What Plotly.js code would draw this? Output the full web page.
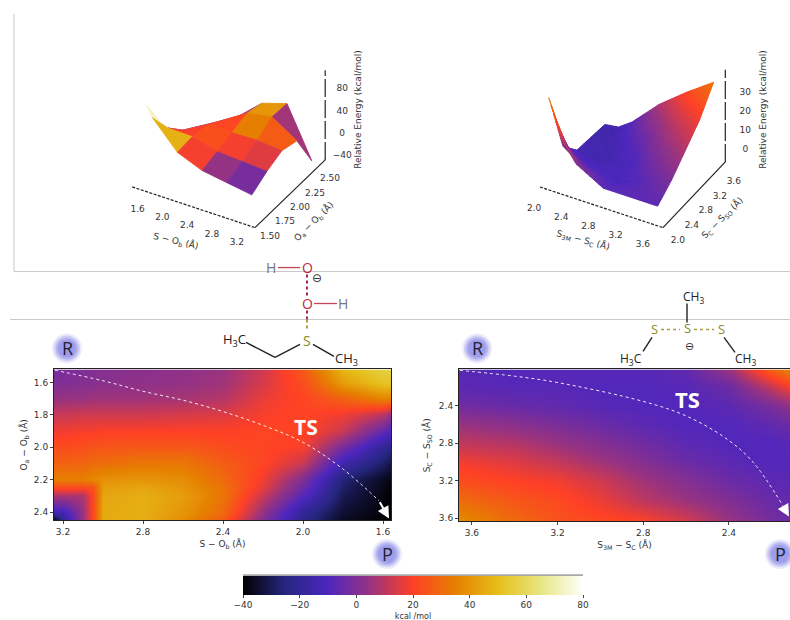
<!DOCTYPE html>
<html><head><meta charset="utf-8">
<script src="https://cdn.plot.ly/plotly-3.0.1.min.js"></script>
<style>html,body{margin:0;padding:0;background:#fff;overflow:hidden}#c{width:790px;height:620px}</style>
</head><body><div id="c"></div>
<script>
// ---- data ----
const leftX = [3.245,3.2,3.1,3.05,3.0,2.8,2.6,2.4,2.2,2.0,1.8,1.6,1.56];
const leftY = [1.52,1.6,1.7,1.8,1.9,2.0,2.1,2.2,2.25,2.3,2.4,2.45];
const leftZ = [
 [-2,-1,0,1,1,2,3,5,13,26,48,56,56],
 [0,0,1,1,2,3,4,6,14,23,42,52,52],
 [4,5,5,6,6,6,7,9,17,21,28,36,36],
 [12,12,13,13,13,13,14,15,19,21,18,10,4],
 [18,18,19,19,20,20,20,20,21,21,12,-6,-10],
 [23,23,24,25,25,26,26,23,21,19,-2,-20,-24],
 [28,28,29,30,31,33,33,27,21,12,-15,-28,-32],
 [35,35,35,37,39,40,38,30,18,0,-26,-36,-38],
 [22,22,22,24,42,44,40,32,16,-4,-28,-37,-39],
 [8,8,8,22,44,46,42,32,12,-8,-30,-38,-40],
 [-14,-14,5,22,45,46,40,30,4,-20,-34,-39,-40],
 [-40,-20,5,22,45,46,38,26,0,-22,-36,-40,-40]
];
const rightX = [3.66,3.4,3.2,3.0,2.8,2.6,2.4,2.2,2.0];
const rightY = [2.0,2.2,2.4,2.6,2.8,3.0,3.2,3.4,3.63];
const rightZ = [
 [-8,-9,-8,-8,-8,-6,6,30,50],
 [-7,-8,-8,-9,-9,-8,-4,12,30],
 [-3,-5,-6,-8,-9,-9,-7,-1,10],
 [5,2,-1,-4,-7,-9,-9,-6,-1],
 [11,9,5,1,-3,-7,-9,-9,-6],
 [18,15,11,6,1,-4,-7,-9,-8],
 [23,20,18,13,6,1,-4,-7,-8],
 [30,25,22,17,10,5,0,-5,-7],
 [38,30,24,22,20,14,5,-2,-6]
];
const surfLX = [1.5,1.6,2.0,2.4,2.8,3.2];
const surfLY = [1.5,1.75,2.0,2.25,2.5];
const surfLZ = [
 [102,82,35,17,10,3],
 [42,38,37,25,22,19],
 [-25,8,33,33,34,30],
 [-32,-22,14,42,50,22],
 [-38,-35,-5,34,48,-40]
];
const surfRX = [2.0,2.2,2.4,2.8,3.2,3.6];
const surfRY = [2.0,2.4,2.8,3.2,3.6];
const surfRZ = [
 [40,20,10,2,2,2],
 [7,2,0,-2,2,8],
 [-3,-4,-4,-1,8,16],
 [-4,-4,-3,5,16,24],
 [-5,-4,1,15,26,36]
];
const leftPathX = [3.24,3.0,2.8,2.6,2.4,2.2,2.0,1.8,1.62];
const leftPathY = [1.525,1.59,1.655,1.71,1.78,1.865,1.97,2.135,2.33];
const rightPathX = [3.656,3.4,3.203,2.8,2.595,2.408,2.287,2.147];
const rightPathY = [2.028,2.09,2.156,2.358,2.517,2.76,3.005,3.47];
const cmr = [[0,'#000000'],[0.125,'#262680'],[0.25,'#4d26bf'],[0.375,'#993380'],[0.5,'#ff4026'],[0.625,'#e68000'],[0.75,'#e6bf1a'],[0.875,'#e6e680'],[1,'#ffffff']];
const barTicks = [-40,-20,0,20,40,60,80];
const s3dXTicks = [1.6,2.0,2.4,2.8,3.2];
const s3dYTicks = [1.5,1.75,2.0,2.25,2.5];
const s3dZTicks = [-40,0,40,80];
const r3dXTicks = [2.0,2.4,2.8,3.2,3.6];
const r3dYTicks = [2.0,2.4,2.8,3.2,3.6];
const r3dZTicks = [0,10,20,30];

const P = x=>x/790, Q = y=>1-y/620;
const font = {family:'DejaVu Sans, sans-serif', size:9, color:'#333'};

function line(x0,y0,x1,y1,color,w,dash){return {type:'line',xref:'paper',yref:'paper',x0:P(x0),y0:Q(y0),x1:P(x1),y1:Q(y1),line:{color:color,width:w||1.3,dash:dash||'solid'}};}
function glow(cx,cy){const out=[];[[15,0.18],[13,0.3],[11,0.45],[9,0.6]].forEach(([r,o])=>{out.push({type:'circle',xref:'paper',yref:'paper',x0:P(cx-r),x1:P(cx+r),y0:Q(cy+r),y1:Q(cy-r),fillcolor:'#8f8fe8',opacity:o,line:{width:0}});});return out;}
function lab(x,y,t,size,color,extra){return Object.assign({xref:'paper',yref:'paper',x:P(x),y:Q(y),text:t,showarrow:false,xanchor:'center',yanchor:'middle',font:{family:'Open Sans, DejaVu Sans, sans-serif',size:size,color:color}},extra||{});}

const shapes = [
 line(14,14,14,272,'#c8c8c8',1), line(14,272,790,272,'#c8c8c8',1), line(10,320,790,320,'#c8c8c8',1),
 line(243,576,583,576,'#666',1),
 ...glow(67,349),...glow(477,349),...glow(387,555),...glow(780,555),
 line(278,268,300,268,'#c0475a',1.3), line(314,304,337,304,'#c0475a',1.3),
 line(307,275,307,296,'#a3244a',2,'dot'), line(307,311,307,320,'#a3244a',2,'dot'), line(307,320,307,332,'#a7a040',2,'dot'),
 line(300,345,275,358,'#222',1.4), line(275,358,246,343,'#222',1.4), line(313,345,334,357,'#222',1.4),
 line(687,304,687,323,'#222',1.4), line(661,330,680,330,'#a7a040',1.6,'dot'), line(694,330,714,330,'#a7a040',1.6,'dot'),
 line(652,338,643,352,'#222',1.4), line(724,338,735,353,'#222',1.4)
];
const tf = {family:'DejaVu Sans, sans-serif',size:9,color:'#333'};
function ttl(x,y,t,ang){return {xref:'paper',yref:'paper',x:P(x),y:Q(y),text:t,showarrow:false,xanchor:'center',yanchor:'middle',textangle:ang,font:tf};}
const annos = [
 lab(67,349,'R',18,'#223'),lab(477,349,'R',18,'#223'),lab(387,555,'P',18,'#223'),lab(780,555,'P',18,'#223'),
 lab(306,428,'<b>TS</b>',21,'#fff'),lab(687,400,'<b>TS</b>',22,'#fff'),
 lab(271,268,'H',14,'#777'),lab(307,268,'O',14,'#c0283c'),lab(317,278,'⊖',12,'#333'),
 lab(307,304,'O',14,'#c0283c'),lab(343,304,'H',14,'#777'),lab(307,341,'S',14,'#8a8a20'),
 lab(234,341,'H<sub>3</sub>C',13,'#222'),lab(346,360,'CH<sub>3</sub>',13,'#222'),
 lab(693,297,'CH<sub>3</sub>',12,'#222'),lab(687,329,'S',13,'#8a8a20'),lab(654,330,'S',13,'#8a8a20'),lab(721,330,'S',13,'#8a8a20'),
 lab(689,346,'⊖',11,'#333'),lab(631,360,'H<sub>3</sub>C',12,'#222'),lab(745,360,'CH<sub>3</sub>',12,'#222'),
 {xref:'x',yref:'y',axref:'x',ayref:'y',x:1.57,y:2.44,ax:leftPathX[8],ay:leftPathY[8],showarrow:true,arrowcolor:'#fff',arrowhead:2,arrowsize:1.2,arrowwidth:2,text:''},
 {xref:'x2',yref:'y2',axref:'x2',ayref:'y2',x:2.12,y:3.58,ax:rightPathX[7],ay:rightPathY[7],showarrow:true,arrowcolor:'#fff',arrowhead:2,arrowsize:1.2,arrowwidth:2,text:''},
 ttl(358,110,'Relative Energy (kcal/mol)',-90),
 ttl(763,110,'Relative Energy (kcal/mol)',-90),
 ttl(176,241,'S − O<sub>b</sub> (Å)',13),
 ttl(313,222,'O<sub>a</sub> − O<sub>b</sub> (Å)',-45),
 ttl(583,240,'S<sub>3M</sub> − S<sub>C</sub> (Å)',15),
 ttl(722,218,'S<sub>C</sub> − S<sub>SO</sub> (Å)',-45)
];

// oblique projection of a 3-D surface onto the page, derived from the picture's axes
const viewL = {o:[255,228],x0:3.3,y0:1.45,z0:-47,ux:[62,20.6],uy:[60,-58],uz:0.558,xa:[1.32,3.3],ya:[1.45,2.62],za:[-47,114],cmin:-12,cmax:71,tmin:0.32,lx:[-12,17],ly:[12,12],lz:[17,0]};
const viewR = {o:[663,228],x0:3.72,y0:1.92,z0:-6.3,ux:[68,22.5],uy:[35,-37],uz:1.91,xa:[1.91,3.72],ya:[1.92,3.7],za:[-6.3,42],cmin:-26,cmax:77,tmin:0,lx:[-12,20],ly:[12,16],lz:[20,0]};
function proj(v,x,y,z){return [v.o[0]+(x-v.x0)*v.ux[0]+(y-v.y0)*v.uy[0], v.o[1]+(x-v.x0)*v.ux[1]+(y-v.y0)*v.uy[1]-(z-v.z0)*v.uz];}
function hex2(c){return [1,3,5].map(i=>parseInt(c.substr(i,2),16));}
function colorOf(z,v){let t=Math.min(1,Math.max(v.tmin,(z-v.cmin)/(v.cmax-v.cmin)));for(let i=1;i<cmr.length;i++){if(t<=cmr[i][0]){const a=hex2(cmr[i-1][1]),b=hex2(cmr[i][1]),f=(t-cmr[i-1][0])/(cmr[i][0]-cmr[i-1][0]);return 'rgb('+a.map((q,k)=>Math.round(q+(b[k]-q)*f)).join(',')+')';}}return '#fff';}
function facets(v,X,Y,Z,sub){
 const out=[];
 for(let j=Y.length-2;j>=0;j--){for(let s=sub-1;s>=0;s--){for(let i=0;i<X.length-1;i++){for(let r=0;r<sub;r++){
  const val=(a,b)=>{const f=(r+a)/sub,g=(s+b)/sub;return Z[j][i]*(1-f)*(1-g)+Z[j][i+1]*f*(1-g)+Z[j+1][i]*(1-f)*g+Z[j+1][i+1]*f*g;};
  const xx=a=>X[i]+(X[i+1]-X[i])*(r+a)/sub, yy=b=>Y[j]+(Y[j+1]-Y[j])*(s+b)/sub;
  const c=[[0,0],[1,0],[1,1],[0,1],[0,0]].map(([a,b])=>proj(v,xx(a),yy(b),val(a,b)));
  const col=colorOf((val(0,0)+val(1,0)+val(1,1)+val(0,1))/4,v);
  out.push({type:'scatter',mode:'lines',xaxis:'x3',yaxis:'y3',x:c.map(p=>p[0]),y:c.map(p=>p[1]),fill:'toself',fillcolor:col,line:{color:col,width:0.9},hoverinfo:'skip'});
 }}}}
 return out;
}
function axisLines(v,xt,yt,zt,ydec){
 const out=[];
 const seg=(a,b,dash)=>out.push({type:'scatter',mode:'lines',xaxis:'x3',yaxis:'y3',x:[a[0],b[0]],y:[a[1],b[1]],line:{color:'#222',width:1.2,dash:dash},hoverinfo:'skip'});
 seg(proj(v,v.xa[0],v.y0,v.z0),proj(v,v.xa[1],v.y0,v.z0),'3px,1.5px');
 seg(proj(v,v.xa[1],v.y0,v.z0),proj(v,v.xa[1],v.ya[1],v.z0),'solid');
 seg(proj(v,v.xa[1],v.ya[1],v.z0),proj(v,v.xa[1],v.ya[1],v.za[1]),'18px,3px');
 const txt=(pts,labels,d)=>out.push({type:'scatter',mode:'text',xaxis:'x3',yaxis:'y3',x:pts.map(p=>p[0]+d[0]),y:pts.map(p=>p[1]+d[1]),text:labels,textposition:'middle center',textfont:tf,cliponaxis:false,hoverinfo:'skip'});
 txt(xt.map(t=>proj(v,t,v.y0,v.z0)),xt.map(t=>t.toFixed(1)),v.lx);
 txt(yt.map(t=>proj(v,v.xa[1],t,v.z0)),yt.map(t=>t.toFixed(ydec)),v.ly);
 txt(zt.map(t=>proj(v,v.xa[1],v.ya[1],t)),zt.map(t=>String(t).replace('-','−')),v.lz);
 return out;
}

const layout = {
 width:790,height:620,margin:{l:0,r:0,t:0,b:0},paper_bgcolor:'#fff',plot_bgcolor:'rgba(0,0,0,0)',showlegend:false,
 shapes:shapes,annotations:annos,
 coloraxis:{cmin:-40,cmax:80,colorscale:cmr,colorbar:{orientation:'h',x:P(413),xanchor:'center',y:Q(576),yanchor:'top',len:340,lenmode:'pixels',thickness:19,thicknessmode:'pixels',tickvals:barTicks,ticks:'outside',ticklen:3,tickfont:font,outlinewidth:0,xpad:0,ypad:0,title:{text:'kcal /mol',side:'bottom',font:{family:'DejaVu Sans, sans-serif',size:8,color:'#333'}}}},
 xaxis:{domain:[P(54),P(391)],anchor:'y',range:[3.245,1.56],tickvals:[3.2,2.8,2.4,2.0,1.6],ticktext:['3.2','2.8','2.4','2.0','1.6'],ticks:'outside',ticklen:3,tickfont:font,showline:true,mirror:true,linecolor:'#222',linewidth:1,showgrid:false,zeroline:false,title:{text:'S − O<sub>b</sub> (Å)',font:font,standoff:4}},
 yaxis:{domain:[Q(521),Q(370)],anchor:'x',range:[2.45,1.52],tickvals:[1.6,1.8,2.0,2.2,2.4],ticktext:['1.6','1.8','2.0','2.2','2.4'],ticks:'outside',ticklen:3,tickfont:font,showline:true,mirror:true,linecolor:'#222',linewidth:1,showgrid:false,zeroline:false,title:{text:'O<sub>a</sub> − O<sub>b</sub> (Å)',font:font,standoff:4}},
 xaxis2:{domain:[P(459),1],anchor:'y2',range:[3.66,2.115],tickvals:[3.6,3.2,2.8,2.4],ticktext:['3.6','3.2','2.8','2.4'],ticks:'outside',ticklen:3,tickfont:font,showline:true,mirror:true,linecolor:'#222',linewidth:1,showgrid:false,zeroline:false,title:{text:'S<sub>3M</sub> − S<sub>C</sub> (Å)',font:font,standoff:4}},
 yaxis2:{domain:[Q(522),Q(370)],anchor:'x2',range:[3.63,2.018],tickvals:[2.4,2.8,3.2,3.6],ticktext:['2.4','2.8','3.2','3.6'],ticks:'outside',ticklen:3,tickfont:font,showline:true,mirror:true,linecolor:'#222',linewidth:1,showgrid:false,zeroline:false,title:{text:'S<sub>C</sub> − S<sub>SO</sub> (Å)',font:font,standoff:6}},
 xaxis3:{domain:[0,1],anchor:'y3',range:[0,790],visible:false,fixedrange:true},
 yaxis3:{domain:[0,1],anchor:'x3',range:[620,0],visible:false,fixedrange:true}
};

const data = [
 {type:'heatmap',x:leftX,y:leftY,z:leftZ,zsmooth:'best',coloraxis:'coloraxis',xaxis:'x',yaxis:'y',hoverinfo:'skip'},
 {type:'heatmap',x:rightX,y:rightY,z:rightZ,zsmooth:'best',coloraxis:'coloraxis',xaxis:'x2',yaxis:'y2',hoverinfo:'skip'},
 {type:'scatter',mode:'lines',x:leftPathX,y:leftPathY,xaxis:'x',yaxis:'y',line:{color:'rgba(255,255,255,0.9)',width:1,dash:'dot',shape:'spline'},hoverinfo:'skip'},
 {type:'scatter',mode:'lines',x:rightPathX,y:rightPathY,xaxis:'x2',yaxis:'y2',line:{color:'rgba(255,255,255,0.9)',width:1,dash:'dot',shape:'spline'},hoverinfo:'skip'},
 ...axisLines(viewL,s3dXTicks,s3dYTicks,s3dZTicks,2),
 ...axisLines(viewR,r3dXTicks,r3dYTicks,r3dZTicks,1),
 ...facets(viewL,surfLX,surfLY,surfLZ,1),
 ...facets(viewR,surfRX,surfRY,surfRZ,6)
];
Plotly.newPlot('c',data,layout,{staticPlot:true,displayModeBar:false});
</script></body></html>
